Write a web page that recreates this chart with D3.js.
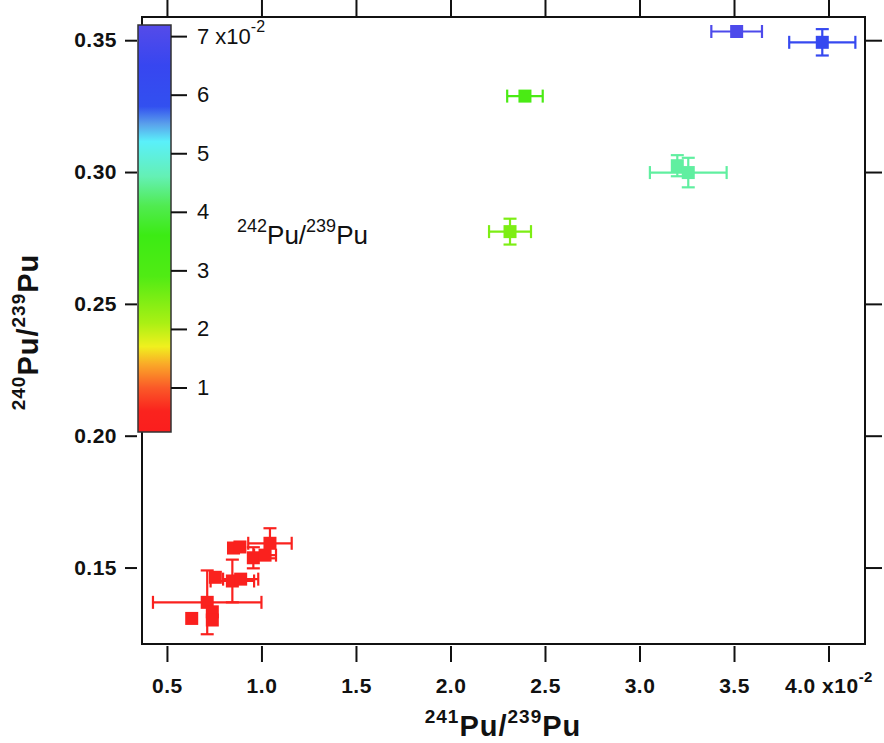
<!DOCTYPE html>
<html>
<head>
<meta charset="utf-8">
<script src="https://cdn.jsdelivr.net/npm/d3@7"></script>
<style>
  body { margin: 0; background: #fff; }
  svg { display: block; font-family: "Liberation Sans", Arial, sans-serif; }
</style>
</head>
<body>
<svg id="chart" width="884" height="743"></svg>
<script>
// 241Pu/239Pu (x10^-2), 240Pu/239Pu, errors and 242Pu/239Pu (x10^-2) per sample
const pu241 = [0.631, 0.713, 0.740, 0.740, 0.756, 0.846, 0.890, 0.852, 0.886, 0.957, 1.019, 1.045, 2.315, 2.394, 3.200, 3.258, 3.514, 3.967];
const pu240 = [0.1307, 0.1368, 0.1332, 0.1301, 0.1463, 0.1449, 0.1456, 0.1574, 0.1578, 0.1537, 0.1547, 0.1592, 0.2774, 0.3288, 0.3024, 0.2998, 0.3533, 0.3492];
const pu241Err = [0, 0.287, 0, 0, 0, 0.115, 0.093, 0, 0, 0, 0.058, 0.115, 0.111, 0.094, 0, 0.203, 0.134, 0.175];
const pu240Err = [0, 0.0121, 0, 0, 0, 0.0081, 0, 0, 0, 0.004, 0, 0.0057, 0.0049, 0, 0.004, 0.0056, 0, 0.005];
const pu242 = [0.40, 0.45, 0.35, 0.40, 0.50, 0.45, 0.40, 0.50, 0.45, 0.40, 0.45, 0.50, 2.5, 3.1, 4.5, 4.5, 7.0, 6.3];

const xTicks = [0.5, 1.0, 1.5, 2.0, 2.5, 3.0, 3.5, 4.0];
const yTicks = [0.15, 0.20, 0.25, 0.30, 0.35];
const cTicks = [1, 2, 3, 4, 5, 6, 7];

// colour table of the colour bar
const cStops = [0.24, 0.6, 1.0, 1.4, 1.7, 2.1, 2.9, 3.6, 4.1, 4.6, 5.2, 5.5, 5.8, 6.5, 7.19];
const cColors = ["#fa1e1e", "#fa231e", "#fa5a28", "#faaa28", "#f0f01e", "#aaf014", "#50eb14", "#3ceb14", "#50eb50", "#64f0b4", "#5af0fa", "#5aa0eb", "#3250f0", "#3746f0", "#554be9"];

const svg = d3.select("#chart");
const x = d3.scaleLinear().domain([0.368, 4.193]).range([142, 865]);
const y = d3.scaleLinear().domain([0.1210, 0.3588]).range([644, 17]);
const c = d3.scaleLinear().domain([0.24, 7.19]).range([432, 25]);
const color = d3.scaleLinear().domain(cStops).range(cColors);

const pts = pu241.map(function(d, i) {
  return {x: d, y: pu240[i], xe: pu241Err[i], ye: pu240Err[i], c: pu242[i]};
});

// frame
svg.append("rect")
  .attr("x", 142).attr("y", 17).attr("width", 723).attr("height", 627)
  .attr("fill", "none").attr("stroke", "#111").attr("stroke-width", 2);

function styleAxis(g) {
  g.select(".domain").remove();
  g.selectAll(".tick line").attr("stroke", "#111").attr("stroke-width", 2);
}

// bottom axis
svg.append("g").attr("transform", "translate(0,646)")
  .call(d3.axisBottom(x).tickValues(xTicks).tickSize(16).tickPadding(16)
    .tickFormat(d3.format(".1f")))
  .call(styleAxis)
  .selectAll("text")
  .attr("font-size", 21).attr("font-weight", "bold").attr("fill", "#111")
  .attr("font-family", "Liberation Sans, Arial, sans-serif").attr("letter-spacing", 0.5);

// exponent on the last x tick
svg.selectAll("g.tick").filter(function(d) { return d === 4.0; }).select("text")
  .each(function() {
    const t = d3.select(this);
    t.text("4.0 x10");
    t.append("tspan").attr("font-size", 15).attr("dy", "-0.75em").text("-2");
  });

// left axis
svg.append("g").attr("transform", "translate(137,0)")
  .call(d3.axisLeft(y).tickValues(yTicks).tickSize(12).tickPadding(8)
    .tickFormat(d3.format(".2f")))
  .call(styleAxis)
  .selectAll("text")
  .attr("font-size", 21).attr("font-weight", "bold").attr("fill", "#111")
  .attr("font-family", "Liberation Sans, Arial, sans-serif").attr("letter-spacing", 0.5);

// mirror axes
svg.append("g").attr("transform", "translate(0,17)")
  .call(d3.axisTop(x).tickValues(xTicks).tickSize(17).tickFormat(""))
  .call(styleAxis);
svg.append("g").attr("transform", "translate(865,0)")
  .call(d3.axisRight(y).tickValues(yTicks).tickSize(17).tickFormat(""))
  .call(styleAxis);

// error bars
const cap = 6.5;
const eb = svg.append("g").attr("stroke-width", 2.2);
pts.forEach(function(p) {
  const col = color(p.c);
  const cx = x(p.x), cy = y(p.y);
  if (p.xe > 0) {
    const x0 = x(p.x - p.xe), x1 = x(p.x + p.xe);
    eb.append("line").attr("x1", x0).attr("x2", x1).attr("y1", cy).attr("y2", cy).attr("stroke", col);
    eb.append("line").attr("x1", x0).attr("x2", x0).attr("y1", cy - cap).attr("y2", cy + cap).attr("stroke", col);
    eb.append("line").attr("x1", x1).attr("x2", x1).attr("y1", cy - cap).attr("y2", cy + cap).attr("stroke", col);
  }
  if (p.ye > 0) {
    const y0 = y(p.y - p.ye), y1 = y(p.y + p.ye);
    eb.append("line").attr("x1", cx).attr("x2", cx).attr("y1", y0).attr("y2", y1).attr("stroke", col);
    eb.append("line").attr("x1", cx - cap).attr("x2", cx + cap).attr("y1", y0).attr("y2", y0).attr("stroke", col);
    eb.append("line").attr("x1", cx - cap).attr("x2", cx + cap).attr("y1", y1).attr("y2", y1).attr("stroke", col);
  }
});

// square markers
svg.append("g").selectAll("rect")
  .data(pts)
  .enter()
  .append("rect")
  .attr("x", function(d) { return x(d.x) - 6.5; })
  .attr("y", function(d) { return y(d.y) - 6.5; })
  .attr("width", 13).attr("height", 13)
  .attr("fill", function(d) { return color(d.c); });

// colour bar
const defs = svg.append("defs");
const grad = defs.append("linearGradient").attr("id", "cbar")
  .attr("x1", 0).attr("y1", 1).attr("x2", 0).attr("y2", 0);
grad.selectAll("stop")
  .data(cStops)
  .enter()
  .append("stop")
  .attr("offset", function(d) { return (d - cStops[0]) / (cStops[cStops.length - 1] - cStops[0]); })
  .attr("stop-color", function(d, i) { return cColors[i]; });

svg.append("rect")
  .attr("x", 138).attr("y", c(7.19)).attr("width", 33).attr("height", c(0.24) - c(7.19))
  .attr("fill", "url(#cbar)").attr("stroke", "#333").attr("stroke-width", 1.5);

const cax = svg.append("g").attr("transform", "translate(171,0)")
  .call(d3.axisRight(c).tickValues(cTicks).tickSize(16).tickPadding(10).tickFormat(d3.format("d")))
  .call(styleAxis);
cax.selectAll("text").attr("font-size", 22).attr("fill", "#111")
  .attr("font-family", "Liberation Sans, Arial, sans-serif");
cax.selectAll("g.tick").filter(function(d) { return d === 7; }).select("text")
  .each(function() {
    const t = d3.select(this);
    t.text("7 x10");
    t.append("tspan").attr("font-size", 16).attr("dy", "-0.75em").text("-2");
  });

// colour bar title
const ct = svg.append("text").attr("x", 237).attr("y", 244)
  .attr("font-size", 26).attr("fill", "#111");
ct.append("tspan").attr("font-size", 18).attr("dy", -12).text("242");
ct.append("tspan").attr("dy", 12).text("Pu/");
ct.append("tspan").attr("font-size", 18).attr("dy", -12).text("239");
ct.append("tspan").attr("dy", 12).text("Pu");

// axis titles
function isoTitle(sel, a, b) {
  sel.attr("font-weight", "bold").attr("font-size", 29).attr("fill", "#111").attr("letter-spacing", 1);
  sel.append("tspan").attr("font-size", 19).attr("dy", -13).text(a);
  sel.append("tspan").attr("dy", 13).text("Pu/");
  sel.append("tspan").attr("font-size", 19).attr("dy", -13).text(b);
  sel.append("tspan").attr("dy", 13).text("Pu");
}
svg.append("text").attr("x", 503).attr("y", 736).attr("text-anchor", "middle")
  .call(isoTitle, "241", "239");
svg.append("text").attr("transform", "translate(38,332) rotate(-90)").attr("text-anchor", "middle")
  .call(isoTitle, "240", "239");
</script>
</body>
</html>
